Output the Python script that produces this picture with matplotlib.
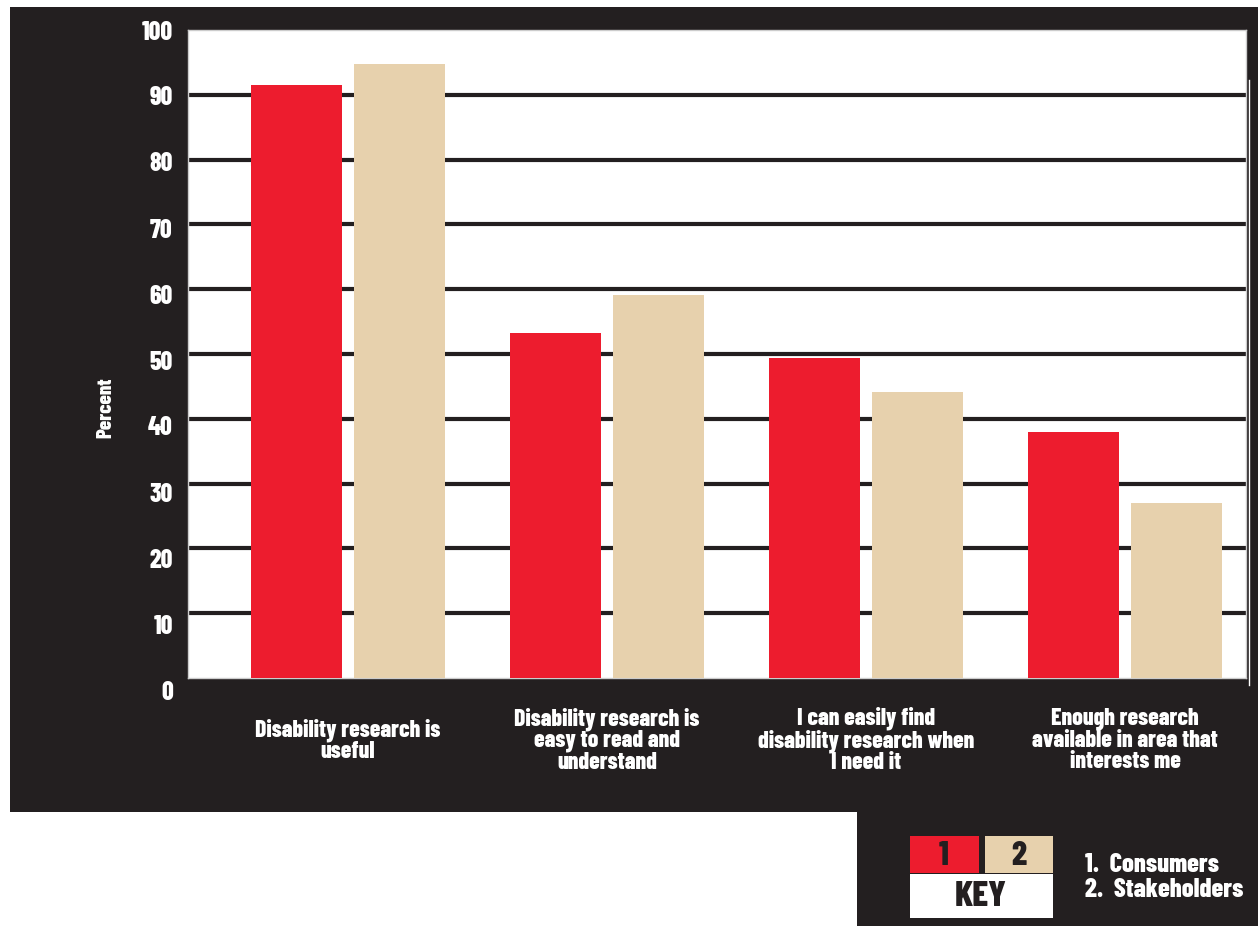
import matplotlib
matplotlib.use('Agg')
import matplotlib.pyplot as plt
from matplotlib.patches import Rectangle
from matplotlib.transforms import ScaledTranslation
import numpy as np

plt.rcParams['font.family'] = ['Barlow Condensed', 'DejaVu Sans']
plt.rcParams['font.weight'] = 800

categories = ['Disability research is\nuseful',
              'Disability research is\neasy to read and\nunderstand',
              'I can easily find\ndisability research when\nI need it',
              'Enough research\navailable in area that\ninterests me']
consumers = [91.5, 53.2, 49.4, 38.0]
stakeholders = [94.7, 59.1, 44.1, 27.0]
yticks = [0, 10, 20, 30, 40, 50, 60, 70, 80, 90, 100]
key_labels = ['1.  Consumers', '2.  Stakeholders']

dark = '#231f20'
red = '#ed1c2e'
beige = '#e7d1ad'

W, H = 1258, 926
fig = plt.figure(figsize=(W / 100, H / 100), dpi=100)
fig.patch.set_facecolor('white')


def box(x0, y0, x1, y1, color, z=0):
    # pixel box (top-left origin) -> figure fraction rectangle
    r = Rectangle((x0 / W, 1 - y1 / H), (x1 - x0) / W, (y1 - y0) / H,
                  transform=fig.transFigure, facecolor=color, edgecolor='none', zorder=z)
    fig.add_artist(r)
    return r


# dark panels behind the chart and the key
box(10, 7, 1258, 812, dark)
box(857, 812, 1258, 926, dark)

ax = fig.add_axes([188 / W, 1 - 678 / H, (1246 - 188) / W, (678 - 30) / H])
ax.set_facecolor('white')

x = np.arange(len(categories))
w = 0.351
off = 0.199
ax.bar(x - off, consumers, w, color=red, zorder=3)
ax.bar(x + off, stakeholders, w, color=beige, zorder=3)

for v in yticks[1:-1]:
    ax.axhline(v, xmin=0, xmax=1.004, color=dark, lw=3, zorder=2, clip_on=False)

ax.set_xlim(-0.618, 3.467)
ax.set_ylim(0, 100)
for s in ax.spines.values():
    s.set_color('#cccccc')
    s.set_linewidth(1)

ax.set_yticks(yticks)
ax.set_yticklabels([str(v) for v in yticks], fontsize=18.5, color='white')
ax.tick_params(axis='y', length=0, pad=11)
# labels sit a little lower than their grid lines towards the bottom
for v, lab in zip(yticks, ax.get_yticklabels()):
    drop_px = (100 - v) * 0.12
    lab.set_transform(lab.get_transform() + ScaledTranslation(0, -drop_px / 100, fig.dpi_scale_trans))

ax.set_xticks(x)
ax.set_xticklabels(categories, fontsize=17, color='white', linespacing=0.97, va='center')
ax.tick_params(axis='x', length=0, pad=45)

fig.text(106 / W, 1 - 408 / H, 'Percent', rotation=90, ha='center', va='center',
         fontsize=15, color='white')

# thin white rule down the right side
fig.add_artist(plt.Line2D([1249 / W, 1249 / W], [1 - 80 / H, 1 - 685 / H],
                          transform=fig.transFigure, color='white', lw=1))

# key
box(910, 836, 979, 873, red, 2)
box(985, 836, 1053, 873, beige, 2)
box(910, 874, 1053, 918, 'white', 2)
fig.text(944 / W, 1 - 856 / H, '1', ha='center', va='center', fontsize=24, color=dark, zorder=3)
fig.text(1019 / W, 1 - 856 / H, '2', ha='center', va='center', fontsize=24, color=dark, zorder=3)
fig.text(981 / W, 1 - 897 / H, 'KEY', ha='center', va='center', fontsize=26, color=dark, zorder=3)
fig.text(1085 / W, 1 - 865 / H, key_labels[0], ha='left', va='center', fontsize=19, color='white')
fig.text(1085 / W, 1 - 890 / H, key_labels[1], ha='left', va='center', fontsize=19, color='white')

fig.savefig('out.png', dpi=100, facecolor=fig.get_facecolor())
